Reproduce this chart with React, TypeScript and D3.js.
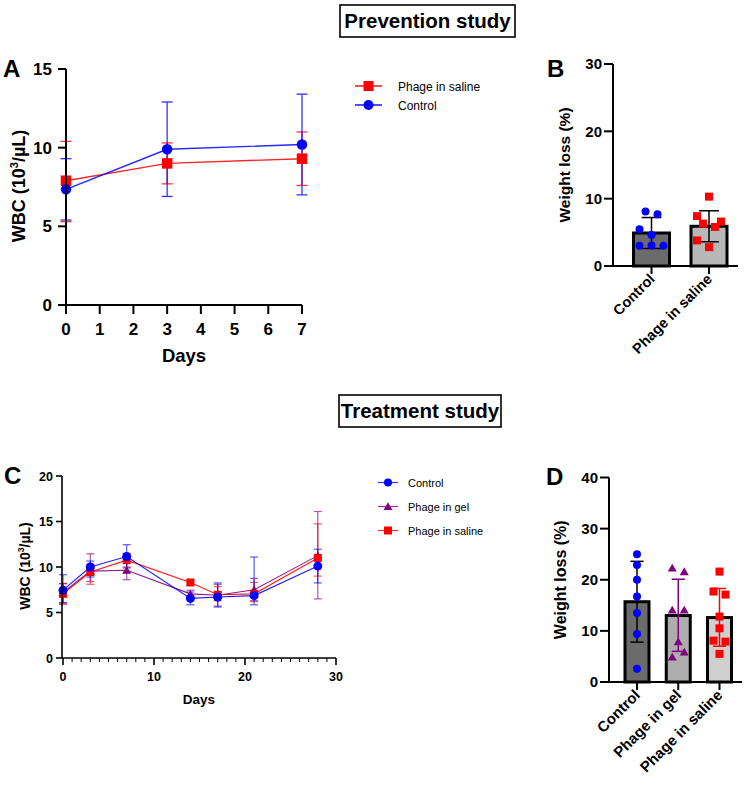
import React from "react";
import * as d3 from "d3";

// ---------- Panel A data ----------
const daysA = [0, 3, 7];
const salineA = [7.9, 9.0, 9.3];
const salineALo = [5.3, 7.7, 7.6];
const salineAHi = [10.4, 10.3, 11.0];
const controlA = [7.35, 9.9, 10.2];
const controlALo = [5.4, 6.9, 7.0];
const controlAHi = [9.3, 12.9, 13.4];
const xTicksA = [0, 1, 2, 3, 4, 5, 6, 7];
const yTicksA = [0, 5, 10, 15];

// ---------- Panel B data ----------
const groupsB = ["Control", "Phage in saline"];
const pointsBControl = [8.1, 7.7, 5.45, 4.6, 3.0, 3.05, 3.0];
const jitterBControl = [-1, 1, -2, 0, -2, 0, 2];
const pointsBSaline = [10.3, 7.4, 6.6, 6.3, 5.8, 3.8, 2.8];
const jitterBSaline = [0, -2, 2, -1, 1, -2, 0];
const meanB = [4.9, 5.9];
const sdB = [2.3, 2.3];
const yTicksB = [0, 10, 20, 30];

// ---------- Panel C data ----------
const daysC = [0, 3, 7, 14, 17, 21, 28];
const controlC = [7.45, 10.0, 11.15, 6.55, 6.7, 6.85, 10.1];
const controlCLo = [6.1, 8.9, 9.9, 5.85, 5.6, 5.85, 8.25];
const controlCHi = [9.15, 10.65, 12.45, 7.25, 8.25, 11.1, 11.95];
const gelC = [7.2, 9.55, 9.65, 7.05, 6.9, 7.5, 11.25];
const gelCLo = [5.9, 8.4, 8.6, 6.5, 5.7, 6.3, 6.5];
const gelCHi = [8.2, 11.45, 10.7, 7.45, 8.1, 8.75, 16.1];
const salineC = [7.05, 9.45, 10.75, 8.3, 6.95, 7.05, 11.0];
const salineCLo = [6.0, 8.1, 10.0, 8.0, 6.3, 6.2, 9.0];
const salineCHi = [8.15, 10.3, 11.5, 8.6, 7.85, 8.3, 14.75];
const xMajorC = [0, 10, 20, 30];
const yTicksC = [0, 5, 10, 15, 20];

// ---------- Panel D data ----------
const groupsD = ["Control", "Phage in gel", "Phage in saline"];
const pointsDControl = [25.0, 22.9, 20.0, 16.7, 13.5, 9.4, 2.6];
const jitterDControl = [0, 0, 0, 0, 0, 0, 0];
const pointsDGel = [22.3, 21.6, 14.1, 14.1, 7.9, 5.9, 4.9];
const jitterDGel = [-1, 1, -1, 1, 0, 1, -1];
const pointsDSaline = [21.6, 17.7, 17.1, 12.8, 10.5, 8.1, 7.9, 5.5];
const jitterDSaline = [0, -1, 1, 0, 0, -1, 1, 0];
const meanD = [15.7, 13.0, 12.6];
const loD = [7.8, 6.0, 7.0];
const hiD = [23.6, 20.1, 18.3];
const yTicksD = [0, 10, 20, 30, 40];

const FONT = "'Liberation Sans', Arial, Helvetica, sans-serif";
const RED = "#ff0000";
const BLUE = "#0000ff";
const PURPLE = "#800080";

function ErrBar({ x, y1, y2, cap, color, width = 1.3, opacity = 1 }: any) {
  return (
    <g stroke={color} strokeWidth={width} opacity={opacity}>
      <line x1={x} x2={x} y1={y1} y2={y2} />
      <line x1={x - cap / 2} x2={x + cap / 2} y1={y1} y2={y1} />
      <line x1={x - cap / 2} x2={x + cap / 2} y1={y2} y2={y2} />
    </g>
  );
}

function Marker({ type, x, y, size, color }: any) {
  if (type === "circle") return <circle cx={x} cy={y} r={size / 2} fill={color} />;
  if (type === "square")
    return <rect x={x - size / 2} y={y - size / 2} width={size} height={size} fill={color} />;
  const p = d3.symbol(d3.symbolTriangle, size * size * 0.55)();
  return <path d={p || ""} transform={`translate(${x},${y + 1})`} fill={color} />;
}

function WbcLabel({ x, y, size }: any) {
  return (
    <text
      transform={`translate(${x},${y}) rotate(-90)`}
      textAnchor="middle"
      fontSize={size}
      fontWeight="bold"
      fontFamily={FONT}
    >
      WBC (10
      <tspan fontSize={size * 0.62} dy={-size * 0.4}>3</tspan>
      <tspan dy={size * 0.4}>/µL)</tspan>
    </text>
  );
}

function PanelA() {
  const x = d3.scaleLinear().domain([0, 7]).range([66, 302]);
  const y = d3.scaleLinear().domain([0, 15]).range([305, 69]);
  const line = d3
    .line<number>()
    .x((_, i) => x(daysA[i]))
    .y((d) => y(d));
  const series = [
    { v: salineA, lo: salineALo, hi: salineAHi, c: RED, m: "square" },
    { v: controlA, lo: controlALo, hi: controlAHi, c: BLUE, m: "circle" },
  ];
  return (
    <g fontFamily={FONT}>
      {series.map((s, k) => (
        <g key={k}>
          {s.v.map((d, i) => (
            <ErrBar key={i} x={x(daysA[i])} y1={y(s.lo[i])} y2={y(s.hi[i])} cap={11} color={s.c} opacity={0.8} />
          ))}
        </g>
      ))}
      {series.map((s, k) => (
        <g key={k}>
          <path d={line(s.v) || ""} fill="none" stroke={s.c} strokeWidth={1.4} opacity={0.85} />
          {s.v.map((d, i) => (
            <Marker key={i} type={s.m} x={x(daysA[i])} y={y(d)} size={10.5} color={s.c} />
          ))}
        </g>
      ))}
      <line x1={66} x2={66} y1={y(15)} y2={y(0)} stroke="#000" strokeWidth={2} />
      <line x1={66} x2={302} y1={y(0)} y2={y(0)} stroke="#000" strokeWidth={2} />
      {yTicksA.map((t) => (
        <g key={t}>
          <line x1={58} x2={66} y1={y(t)} y2={y(t)} stroke="#000" strokeWidth={2} />
          <text x={52} y={y(t) + 6} textAnchor="end" fontSize={17} fontWeight="bold">
            {t}
          </text>
        </g>
      ))}
      {xTicksA.map((t) => (
        <g key={t}>
          <line x1={x(t)} x2={x(t)} y1={y(0)} y2={y(0) + 9} stroke="#000" strokeWidth={2} />
          <text x={x(t)} y={335} textAnchor="middle" fontSize={17} fontWeight="bold">
            {t}
          </text>
        </g>
      ))}
      <text x={184} y={362} textAnchor="middle" fontSize={18.5} fontWeight="bold">
        Days
      </text>
      <WbcLabel x={25} y={186} size={18} />
      {[
        { name: "Phage in saline", c: RED, m: "square" },
        { name: "Control", c: BLUE, m: "circle" },
      ].map((l, i) => (
        <g key={i} transform={`translate(0,${86 + i * 19})`}>
          <line x1={355} x2={382} y1={0} y2={0} stroke={l.c} strokeWidth={1.4} />
          <Marker type={l.m} x={368.5} y={0} size={10} color={l.c} />
          <text x={398} y={4.5} fontSize={12}>
            {l.name}
          </text>
        </g>
      ))}
      <text x={3} y={77} fontSize={24} fontWeight="bold">A</text>
    </g>
  );
}

function BarPanel({
  groups,
  pointSets,
  jitters,
  means,
  los,
  his,
  fills,
  markerColors,
  markerTypes,
  errColors,
  yTicks,
  yMax,
  y0,
  y1,
  axisX,
  axisEnd,
  cx0,
  cx1,
  barW,
  jStep,
  tickFont,
  titleFont,
  titleX,
  letter,
  letterX,
  letterY,
  labelFont,
}: any) {
  const y = d3.scaleLinear().domain([0, yMax]).range([y0, y1]);
  const x = d3.scalePoint().domain(groups).range([cx0, cx1]);
  return (
    <g fontFamily={FONT}>
      {groups.map((g: string, i: number) => {
        const cx = x(g) as number;
        return (
          <g key={g}>
            <rect
              x={cx - barW / 2}
              y={y(means[i])}
              width={barW}
              height={y(0) - y(means[i])}
              fill={fills[i]}
              stroke="#000"
              strokeWidth={3}
            />
            <ErrBar x={cx} y1={y(los[i])} y2={y(his[i])} cap={barW * 0.55} color={errColors[i]} width={1.5} />
            {pointSets[i].map((v: number, k: number) => (
              <Marker key={k} type={markerTypes[i]} x={cx + jitters[i][k] * jStep} y={y(v)} size={8} color={markerColors[i]} />
            ))}
            <line x1={cx} x2={cx} y1={y(0)} y2={y(0) + 8} stroke="#000" strokeWidth={2} />
            <text
              transform={`translate(${cx + 4},${y(0) + 14}) rotate(-45)`}
              textAnchor="end"
              fontSize={labelFont}
              fontWeight="bold"
            >
              {g}
            </text>
          </g>
        );
      })}
      <line x1={axisX} x2={axisX} y1={y(yMax)} y2={y(0)} stroke="#000" strokeWidth={2} />
      <line x1={axisX} x2={axisEnd} y1={y(0)} y2={y(0)} stroke="#000" strokeWidth={2} />
      {yTicks.map((t: number) => (
        <g key={t}>
          <line x1={axisX - 9} x2={axisX} y1={y(t)} y2={y(t)} stroke="#000" strokeWidth={2} />
          <text x={axisX - 11} y={y(t) + tickFont * 0.36} textAnchor="end" fontSize={tickFont} fontWeight="bold">
            {t}
          </text>
        </g>
      ))}
      <text
        transform={`translate(${titleX},${(y(0) + y(yMax)) / 2}) rotate(-90)`}
        textAnchor="middle"
        fontSize={titleFont}
        fontWeight="bold"
      >
        Weight loss (%)
      </text>
      <text x={letterX} y={letterY} fontSize={24} fontWeight="bold">{letter}</text>
    </g>
  );
}

function PanelC() {
  const x = d3.scaleLinear().domain([0, 30]).range([63, 336]);
  const y = d3.scaleLinear().domain([0, 20]).range([658, 476]);
  const line = d3
    .line<number>()
    .x((_, i) => x(daysC[i]))
    .y((d) => y(d));
  const series = [
    { v: gelC, lo: gelCLo, hi: gelCHi, c: PURPLE, m: "triangle" },
    { v: salineC, lo: salineCLo, hi: salineCHi, c: RED, m: "square" },
    { v: controlC, lo: controlCLo, hi: controlCHi, c: BLUE, m: "circle" },
  ];
  const minor = d3.range(0, 31);
  return (
    <g fontFamily={FONT}>
      {series.map((s, k) => (
        <g key={k}>
          {s.v.map((d, i) => (
            <ErrBar key={i} x={x(daysC[i])} y1={y(s.lo[i])} y2={y(s.hi[i])} cap={8} color={s.c} width={1.2} opacity={0.65} />
          ))}
        </g>
      ))}
      {series.map((s, k) => (
        <g key={k}>
          <path d={line(s.v) || ""} fill="none" stroke={s.c} strokeWidth={1.1} opacity={0.9} />
          {s.v.map((d, i) => (
            <Marker key={i} type={s.m} x={x(daysC[i])} y={y(d)} size={s.m === "circle" ? 9 : 8} color={s.c} />
          ))}
        </g>
      ))}
      <line x1={62} x2={62} y1={y(20)} y2={y(0)} stroke="#000" strokeWidth={1.6} />
      <line x1={62} x2={336} y1={y(0)} y2={y(0)} stroke="#000" strokeWidth={1.6} />
      {yTicksC.map((t) => (
        <g key={t}>
          <line x1={56} x2={62} y1={y(t)} y2={y(t)} stroke="#000" strokeWidth={1.6} />
          <text x={53} y={y(t) + 4.5} textAnchor="end" fontSize={12.5} fontWeight="bold">
            {t}
          </text>
        </g>
      ))}
      {minor.map((t) => (
        <line
          key={t}
          x1={x(t)}
          x2={x(t)}
          y1={y(0)}
          y2={y(0) + (t % 10 === 0 ? 7 : 4)}
          stroke="#000"
          strokeWidth={t % 10 === 0 ? 1.6 : 1}
        />
      ))}
      {xMajorC.map((t) => (
        <text key={t} x={x(t)} y={681} textAnchor="middle" fontSize={12.5} fontWeight="bold">
          {t}
        </text>
      ))}
      <text x={199} y={704} textAnchor="middle" fontSize={13.5} fontWeight="bold">
        Days
      </text>
      <WbcLabel x={30} y={566} size={14} />
      {[
        { name: "Control", c: BLUE, m: "circle" },
        { name: "Phage in gel", c: PURPLE, m: "triangle" },
        { name: "Phage in saline", c: RED, m: "square" },
      ].map((l, i) => (
        <g key={i} transform={`translate(0,${482.5 + i * 24})`}>
          <line x1={378} x2={398} y1={0} y2={0} stroke={l.c} strokeWidth={1.2} opacity={0.8} />
          <Marker type={l.m} x={388} y={0} size={8} color={l.c} />
          <text x={408} y={4} fontSize={11}>
            {l.name}
          </text>
        </g>
      ))}
      <text x={4} y={484} fontSize={24} fontWeight="bold">C</text>
    </g>
  );
}

function TitleBox({ x, y, w, h, text, size }: any) {
  return (
    <g fontFamily={FONT}>
      <rect x={x} y={y} width={w} height={h} fill="#fff" stroke="#000" strokeWidth={1.6} />
      <text x={x + w / 2} y={y + h / 2 + 7} textAnchor="middle" fontSize={size} fontWeight="bold">
        {text}
      </text>
    </g>
  );
}

export default function App() {
  return (
    <svg
      width={750}
      height={786}
      style={{ position: "absolute", left: 0, top: 0, background: "#fff" }}
    >
      <rect width={750} height={786} fill="#fff" />
      <TitleBox x={340} y={5} w={175} h={32} text="Prevention study" size={20.5} />
      <TitleBox x={339} y={395} w={162} h={32} text="Treatment study" size={20.5} />
      <PanelA />
      <BarPanel
        groups={groupsB}
        pointSets={[pointsBControl, pointsBSaline]}
        jitters={[jitterBControl, jitterBSaline]}
        means={meanB}
        los={meanB.map((m, i) => m - sdB[i])}
        his={meanB.map((m, i) => m + sdB[i])}
        fills={["#6b6b6b", "#b8b8b8"]}
        markerColors={[BLUE, RED]}
        markerTypes={["circle", "square"]}
        errColors={["#000", "#000"]}
        yTicks={yTicksB}
        yMax={30}
        y0={266}
        y1={64}
        axisX={613}
        axisEnd={738}
        cx0={651.5}
        cx1={709}
        barW={36}
        jStep={6}
        tickFont={15}
        titleFont={15.5}
        titleX={570}
        letter="B"
        letterX={547}
        letterY={77}
        labelFont={14.5}
      />
      <PanelC />
      <BarPanel
        groups={groupsD}
        pointSets={[pointsDControl, pointsDGel, pointsDSaline]}
        jitters={[jitterDControl, jitterDGel, jitterDSaline]}
        means={meanD}
        los={loD}
        his={hiD}
        fills={["#6b6b6b", "#adadad", "#cfcfcf"]}
        markerColors={[BLUE, PURPLE, RED]}
        markerTypes={["circle", "triangle", "square"]}
        errColors={["#000", PURPLE, RED]}
        yTicks={yTicksD}
        yMax={40}
        y0={682}
        y1={477.5}
        axisX={609}
        axisEnd={742}
        cx0={637}
        cx1={719.5}
        barW={24}
        jStep={6}
        tickFont={15}
        titleFont={16}
        titleX={566}
        letter="D"
        letterX={546}
        letterY={485}
        labelFont={15}
      />
    </svg>
  );
}
